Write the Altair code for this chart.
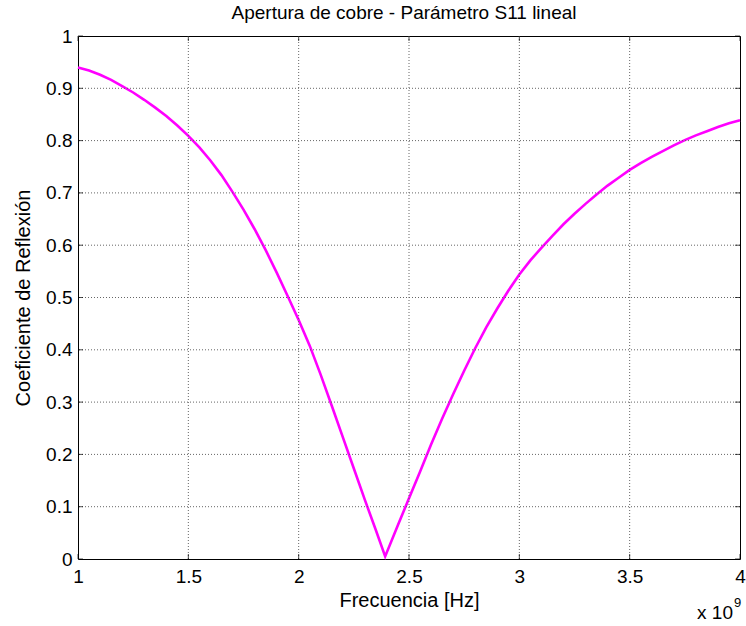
import altair as alt
import pandas as pd

# Frequency in units of 1e9 Hz (axis shows "x 10^9")
freq_ghz = [1.00, 1.05, 1.10, 1.15, 1.20, 1.25, 1.30, 1.35, 1.40, 1.45,
            1.50, 1.55, 1.60, 1.65, 1.70, 1.75, 1.80, 1.85, 1.90, 1.95,
            2.00, 2.05, 2.10, 2.15, 2.20, 2.25, 2.30, 2.35, 2.392, 2.45,
            2.50, 2.55, 2.60, 2.65, 2.70, 2.75, 2.80, 2.85, 2.90, 2.95,
            3.00, 3.05, 3.10, 3.15, 3.20, 3.25, 3.30, 3.35, 3.40, 3.45,
            3.50, 3.55, 3.60, 3.65, 3.70, 3.75, 3.80, 3.85, 3.90, 3.95, 4.00]
s11 = [0.940, 0.934, 0.926, 0.916, 0.904, 0.892, 0.878, 0.863, 0.847, 0.829,
       0.809, 0.787, 0.762, 0.734, 0.702, 0.668, 0.631, 0.591, 0.548, 0.503,
       0.457, 0.408, 0.352, 0.293, 0.233, 0.173, 0.113, 0.055, 0.005, 0.065,
       0.116, 0.167, 0.219, 0.268, 0.315, 0.360, 0.403, 0.443, 0.479, 0.513,
       0.544, 0.571, 0.595, 0.618, 0.640, 0.660, 0.679, 0.697, 0.714, 0.729,
       0.744, 0.757, 0.769, 0.780, 0.791, 0.801, 0.810, 0.818, 0.826, 0.833, 0.839]

x_ticks = [1, 1.5, 2, 2.5, 3, 3.5, 4]
y_ticks = [0, 0.1, 0.2, 0.3, 0.4, 0.5, 0.6, 0.7, 0.8, 0.9, 1]
x_grid = [1.5, 2, 2.5, 3, 3.5]
y_grid = [0.1, 0.2, 0.3, 0.4, 0.5, 0.6, 0.7, 0.8, 0.9]

title_text = ["Apertura de cobre - Parámetro S11 lineal"]
x_label = "Frecuencia [Hz]"
y_label = "Coeficiente de Reflexión"
mult_text = ["x 10"]
mult_exp = ["9"]

FONT = "Liberation Sans"
W, H = 662, 523

df = pd.DataFrame({"f": freq_ghz, "s11": s11})
xs = alt.Scale(domain=[1, 4], nice=False, zero=False)
ys = alt.Scale(domain=[0, 1], nice=False, zero=False)
x_axis = alt.Axis(values=x_ticks, format="~g", title=x_label, labelFlush=False)
y_axis = alt.Axis(values=y_ticks, format="~g", title=y_label, labelFlush=False)

line = alt.Chart(df).mark_line(color="#FF00FF", strokeWidth=2.6).encode(
    x=alt.X("f:Q", scale=xs, axis=x_axis),
    y=alt.Y("s11:Q", scale=ys, axis=y_axis),
)

xgrid = alt.Chart(pd.DataFrame({"f": x_grid})).mark_rule(
    color="#666666", strokeDash=[1, 2], strokeWidth=1
).encode(x=alt.X("f:Q", scale=xs, axis=x_axis))

ygrid = alt.Chart(pd.DataFrame({"s11": y_grid})).mark_rule(
    color="#666666", strokeDash=[1, 2], strokeWidth=1
).encode(y=alt.Y("s11:Q", scale=ys, axis=y_axis))

xt = pd.DataFrame({"f": x_ticks})
yt = pd.DataFrame({"s11": y_ticks})
tick_bottom = alt.Chart(xt).mark_tick(orient="vertical", size=5, thickness=1,
                                      color="black", yOffset=-2.5).encode(
    x=alt.X("f:Q", scale=xs, axis=x_axis), y=alt.value(H))
tick_top = alt.Chart(xt).mark_tick(orient="vertical", size=5, thickness=1,
                                   color="black", yOffset=2.5).encode(
    x=alt.X("f:Q", scale=xs, axis=x_axis), y=alt.value(0))
tick_left = alt.Chart(yt).mark_tick(orient="horizontal", size=5, thickness=1,
                                    color="black", xOffset=2.5).encode(
    y=alt.Y("s11:Q", scale=ys, axis=y_axis), x=alt.value(0))
tick_right = alt.Chart(yt).mark_tick(orient="horizontal", size=5, thickness=1,
                                     color="black", xOffset=-2.5).encode(
    y=alt.Y("s11:Q", scale=ys, axis=y_axis), x=alt.value(W))

title = alt.Chart(pd.DataFrame({"t": title_text})).mark_text(
    align="center", baseline="alphabetic", fontSize=19, font=FONT, color="black"
).encode(text="t:N", x=alt.value(W / 2 - 5), y=alt.value(-17))

mult = alt.Chart(pd.DataFrame({"t": mult_text})).mark_text(
    align="right", baseline="alphabetic", fontSize=19, font=FONT, color="black"
).encode(text="t:N", x=alt.value(655), y=alt.value(583))
mult_sup = alt.Chart(pd.DataFrame({"t": mult_exp})).mark_text(
    align="left", baseline="alphabetic", fontSize=13, font=FONT, color="black"
).encode(text="t:N", x=alt.value(656), y=alt.value(571))

chart = alt.layer(
    line, xgrid, ygrid, tick_bottom, tick_top, tick_left, tick_right,
    title, mult, mult_sup
).properties(
    width=W, height=H,
    padding={"left": 78, "top": 36, "right": 6, "bottom": 67},
    autosize="none",
).configure_view(
    stroke="black", strokeWidth=1
).configure_axis(
    domain=False, grid=False, tickSize=0,
    labelFont=FONT, labelFontSize=19, labelColor="black",
    titleFont=FONT, titleFontSize=20, titleColor="black", titleFontWeight="normal",
).configure_axisX(
    labelPadding=8, titlePadding=4,
).configure_axisY(
    labelPadding=6, titlePadding=12,
)

chart.save("out.html", embed_options={"renderer": "svg", "actions": False})
